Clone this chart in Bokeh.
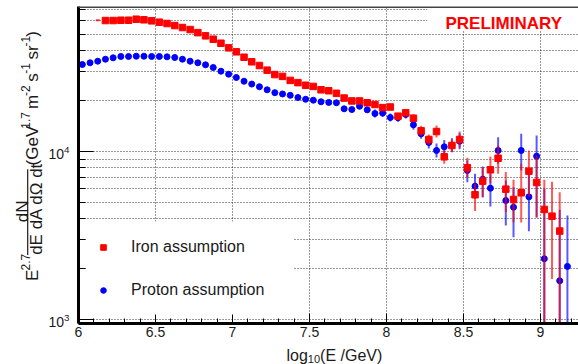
import math
from bokeh.plotting import figure
from bokeh.layouts import row, column
from bokeh.models import (Range1d, Legend, LegendItem, Label, BoxAnnotation, Span,
                          SingleIntervalTicker, NumeralTickFormatter, FixedTicker)
from bokeh.embed import file_html
from bokeh.resources import INLINE

# ---------------- data ----------------
proton_logE = [6.025, 6.075, 6.125, 6.175, 6.225, 6.275, 6.325, 6.375, 6.425, 6.475,
               6.525, 6.575, 6.625, 6.675, 6.725, 6.775, 6.825, 6.875, 6.925, 6.975,
               7.025, 7.075, 7.125, 7.175, 7.225, 7.275, 7.325, 7.375, 7.425, 7.475,
               7.525, 7.575, 7.625, 7.675, 7.725, 7.775, 7.825, 7.875, 7.925, 7.975,
               8.025, 8.075, 8.125, 8.175, 8.225, 8.275, 8.325, 8.375, 8.425, 8.475,
               8.525, 8.575, 8.625, 8.675, 8.725, 8.775, 8.825, 8.875, 8.925, 8.975,
               9.025, 9.125, 9.175]
proton_flux = [32950, 33730, 34470, 35430, 36120, 36780, 36780, 36930, 36930, 36780,
               36780, 36620, 36270, 35430, 34470, 33730, 32810, 31620, 30060, 28840,
               27580, 26200, 25200, 24300, 23300, 22400, 22000, 21600, 20950, 20460,
               20200, 19770, 19580, 19500, 17950, 17780, 18600, 17700, 16820, 16940,
               15940, 15870, 16600, 14420, 12740, 11310, 10140, 10660, 10900, 11500,
               7710, 6220, 6840, 6045, 10140, 5105, 4660, 10140, 5370, 9380,
               2300, 1700, 2070]

iron_logE = [6.175, 6.225, 6.275, 6.325, 6.375, 6.425, 6.475, 6.525, 6.575, 6.625,
             6.675, 6.725, 6.775, 6.825, 6.875, 6.925, 6.975, 7.025, 7.075, 7.125,
             7.175, 7.225, 7.275, 7.325, 7.375, 7.425, 7.475, 7.525, 7.575, 7.625,
             7.675, 7.725, 7.775, 7.825, 7.875, 7.925, 7.975, 8.025, 8.075, 8.125,
             8.175, 8.225, 8.275, 8.325, 8.375, 8.425, 8.475, 8.525, 8.575, 8.625,
             8.675, 8.725, 8.775, 8.825, 8.875, 8.925, 8.975, 9.025, 9.075, 9.125]
iron_flux = [60200, 60200, 60450, 60450, 61300, 60800, 59950, 58850, 57800, 56200,
             54700, 53200, 51000, 48800, 46600, 44100, 41400, 39200, 36400, 34200,
             32500, 30500, 28700, 28000, 26500, 25700, 24800, 24400, 23300, 23000,
             22200, 20800, 20000, 20000, 19500, 19050, 18250, 18400, 16230, 16990,
             15780, 13280, 11790, 13150, 9300, 10860, 11790, 8000, 5530, 6660,
             7780, 9120, 5970, 5180, 5680, 7640, 6540, 4520, 4120, 3360]

# partly hidden first iron bin
iron_edge_logE = [6.125]
iron_edge_flux = [60450]

# error bars (lower / upper bounds) where they are visible
proton_err_logE = [7.825, 7.875, 7.925, 7.975, 8.025, 8.075, 8.125, 8.175, 8.225, 8.275,
                   8.325, 8.375, 8.425, 8.475, 8.525, 8.575, 8.625, 8.675, 8.725, 8.775,
                   8.825, 8.875, 8.925, 8.975, 9.025, 9.125, 9.175]
proton_err_lo = [17850, 16990, 15930, 16040, 15090, 15030, 15720, 13460, 11900, 10410,
                 9220, 9690, 9910, 10300, 6560, 5225, 5350, 4710, 8450, 3625,
                 3090, 7710, 3355, 4065, 500, 500, 500]
proton_err_hi = [19380, 18440, 17760, 17890, 16830, 16760, 17530, 15440, 13640, 12280,
                 11150, 11720, 11990, 12840, 8840, 7360, 8150, 7360, 12160, 6710,
                 6130, 12740, 7540, 12450, 6000, 4500, 4160]

iron_err_logE = [7.825, 7.875, 7.925, 7.975, 8.025, 8.075, 8.125, 8.175, 8.225, 8.275,
                 8.325, 8.375, 8.425, 8.475, 8.525, 8.575, 8.625, 8.675, 8.725, 8.775,
                 8.825, 8.875, 8.925, 8.975, 9.025, 9.075, 9.125]
iron_err_lo = [19190, 18710, 18280, 17510, 17660, 15580, 16300, 14940, 12400, 11010,
               12110, 8450, 10000, 10560, 7030, 4420, 5350, 6475, 7360, 4360,
               3795, 3780, 5395, 4030, 500, 1745, 500]
iron_err_hi = [20840, 20320, 19850, 19020, 19170, 16910, 17700, 16660, 14220, 12630,
               14280, 10230, 11790, 13160, 9170, 6430, 8065, 9340, 10860, 7540,
               6785, 8450, 10140, 9470, 6785, 6600, 5725]

x_tick_interval = 0.5
y_major_ticks = [1000, 10000]
y_minor_ticks = [2000, 3000, 4000, 5000, 6000, 7000, 8000, 9000,
                 20000, 30000, 40000, 50000, 60000, 70000]

series_labels = ["Iron assumption", "Proton assumption"]

# ---------------- layout constants (page pixels) ----------------
FONT = "Liberation Sans"
TXT = "#1a1a1a"
PAGE_W, PAGE_H = 578, 364
LEFT_W = 45          # width of the y-title strip
MAIN_H = 343         # height of the main plot
FL, FB = 78, 323     # frame left / bottom on the page
X0, X1 = 6.0, 9.247
Y0, Y1 = 946.7, 72970.0
BSHIFT = 0.24        # renderer places the alphabetic baseline ~0.24 em lower

# ---------------- main plot ----------------
p = figure(width=PAGE_W - LEFT_W, height=MAIN_H, output_backend="svg",
           toolbar_location=None, x_range=Range1d(X0, X1), y_range=Range1d(Y0, Y1),
           y_axis_type="log", min_border_left=FL - LEFT_W, min_border_right=0,
           min_border_top=6, min_border_bottom=MAIN_H - FB)
p.outline_line_color = None
p.background_fill_color = "white"
p.border_fill_color = "white"

xt = SingleIntervalTicker(interval=x_tick_interval, num_minor_ticks=5)
p.xaxis.ticker = xt
p.xgrid.ticker = xt
p.xaxis.formatter = NumeralTickFormatter(format="0.[0]")
yt = FixedTicker(ticks=y_major_ticks, minor_ticks=y_minor_ticks)
p.yaxis.ticker = yt
p.ygrid.ticker = yt

for ax in (p.xaxis, p.yaxis):
    ax.axis_line_width = 3
    ax.axis_line_color = "black"
    ax.major_tick_out = 0
    ax.minor_tick_out = 0
    ax.major_tick_line_color = "black"
    ax.minor_tick_line_color = "black"
    ax.major_tick_line_width = 1
    ax.minor_tick_line_width = 1
    ax.major_label_text_font = FONT
    ax.major_label_text_font_size = "14px"
    ax.major_label_text_color = TXT
p.xaxis.major_tick_in = 10
p.xaxis.minor_tick_in = 5
p.xaxis.major_label_standoff = 3
p.yaxis.major_tick_in = 15
p.yaxis.minor_tick_in = 7
p.yaxis.major_label_standoff = 9

for g in (p.xgrid, p.ygrid):
    g.grid_line_color = "black"
    g.grid_line_alpha = 0.8
    g.grid_line_dash = "1 2"
    g.grid_line_width = 1
p.ygrid.minor_grid_line_color = "black"
p.ygrid.minor_grid_line_alpha = 0.8
p.ygrid.minor_grid_line_dash = "1 2"

p.segment(x0=proton_err_logE, y0=proton_err_lo, x1=proton_err_logE, y1=proton_err_hi,
          line_color="#0000ff", line_width=2, line_alpha=0.65)
r_prot = p.scatter(proton_logE, proton_flux, marker="circle", size=6,
                   fill_color="#0000ff", line_color="#0000ff")
p.segment(x0=iron_err_logE, y0=iron_err_lo, x1=iron_err_logE, y1=iron_err_hi,
          line_color="#ff0000", line_width=2, line_alpha=0.65)
r_iron = p.scatter(iron_logE, iron_flux, marker="square", size=6.5,
                   fill_color="#ff0000", line_color="#ff0000")
p.scatter(iron_edge_logE, iron_edge_flux, marker="dash", size=4,
          line_color="#ff0000", line_width=2, line_alpha=0.8)

# white legend area (keeps the axis ticks visible)
p.add_layout(BoxAnnotation(left=6.052, right=7.396, bottom=1071, top=3832,
                           fill_color="white", fill_alpha=1.0, line_color=None))
legend = Legend(items=[LegendItem(label=series_labels[0], renderers=[r_iron]),
                       LegendItem(label=series_labels[1], renderers=[r_prot])],
                location=(13, 23.5), margin=0, padding=15, spacing=23,
                glyph_width=24, glyph_height=14, label_height=20, label_width=145,
                label_standoff=16, label_text_font=FONT, label_text_font_size="16px",
                label_text_color=TXT, border_line_color=None,
                background_fill_alpha=0.0)
p.add_layout(legend)

# PRELIMINARY box and text
p.add_layout(BoxAnnotation(left=8.265, right=X1, bottom=52500, top=Y1,
                           fill_color="white", fill_alpha=1.0, line_color=None))
p.add_layout(Label(x=445 - FL, y=FB - (27 - BSHIFT * 17), x_units="screen",
                   y_units="screen", text="PRELIMINARY", text_font=FONT,
                   text_font_size="17px", text_font_style="bold",
                   text_color="#ff0000", text_align="left",
                   text_baseline="alphabetic"))
p.add_layout(Span(location=Y1, dimension="width", line_color="#444444", line_width=3))

# ---------------- text strips for the axis titles ----------------
W = {'(': 333, ')': 333, 'G': 778, 'e': 556, 'V': 667, ' ': 278, 'm': 833, 's': 500,
     'r': 333, '1': 556, '.': 278, '7': 556, '2': 556, '-': 333, 'l': 222, 'o': 556,
     'g': 556, 'E': 667, '/': 278, 'd': 556, '0': 556, 'N': 722, 'A': 667, 't': 278,
     '\u03a9': 768}


def tw(s, fs):
    return sum(W.get(c, 556) for c in s) / 1000.0 * fs


def strip(w, h, top):
    f = figure(width=w, height=h, output_backend="svg", toolbar_location=None,
               x_range=Range1d(0, w), y_range=Range1d(top + h, top),
               x_axis_location=None, y_axis_location=None,
               min_border_left=0, min_border_right=0, min_border_top=0,
               min_border_bottom=0)
    f.grid.visible = False
    f.outline_line_color = None
    f.background_fill_color = "white"
    f.border_fill_color = "white"
    return f


def hlab(f, text, x, base, fs):
    # horizontal text whose alphabetic baseline lands at page y = base
    f.add_layout(Label(x=x, y=base - BSHIFT * fs, text=text, text_font=FONT,
                       text_font_size=f"{fs}px", text_color=TXT, text_align="left",
                       text_baseline="alphabetic"))


def vlab(f, text, base, y, fs):
    # text rotated 90 degrees (reads upward) with its baseline at page x = base
    f.add_layout(Label(x=base - BSHIFT * fs, y=y, text=text, text_font=FONT,
                       text_font_size=f"{fs}px", text_color=TXT, angle=math.pi / 2,
                       angle_units="rad", text_align="left",
                       text_baseline="alphabetic"))


# y title (rotated): E^2.7 dN/(dE dA dΩ dt) (GeV^1.7 m^-2 s^-1 sr^-1)
yf = strip(LEFT_W, MAIN_H, 0)
BASE, SUP = 36.0, 27.5
sy = 297.0
vlab(yf, "E", BASE, sy, 17)
sy -= tw("E", 17)
vlab(yf, "2.7", SUP, sy, 12)
frac_lo, frac_hi = 269.0, 176.0
frac_c = 0.5 * (frac_lo + frac_hi)
num, den = "dN", "dE dA d\u03a9 dt"
vlab(yf, num, 25.6, frac_c + tw(num, 17) / 2, 17)
vlab(yf, den, 40.2, frac_c + tw(den, 17) / 2, 17)
yf.segment(x0=[27.2], y0=[frac_lo], x1=[27.2], y1=[frac_hi], line_color=TXT,
           line_width=1.2)
pieces = [("(GeV", 17, False), ("1.7", 12, True), (" ", 17, None), ("m", 17, False),
          ("-2", 12, True), (" ", 17, None), ("s", 17, False), ("-1", 12, True),
          (" ", 17, None), ("sr", 17, False), ("-1", 12, True), (")", 17, False)]
sy = 172.0
for text, fs, sup in pieces:
    if sup is not None:
        vlab(yf, text, SUP if sup else BASE, sy, fs)
    sy -= tw(text, fs)

# x title: log_10(E /GeV)
xf = strip(PAGE_W, PAGE_H - MAIN_H, MAIN_H)
sx = 286.0
hlab(xf, "log", sx, 358.5, 16)
sx += tw("log", 16)
hlab(xf, "10", sx, 361.5, 11)
sx += tw("10", 11)
hlab(xf, "(E /GeV)", sx, 358.5, 16)

layout = column(row(yf, p, spacing=0), xf, spacing=0)
open("out.html", "w").write(file_html(layout, INLINE))
